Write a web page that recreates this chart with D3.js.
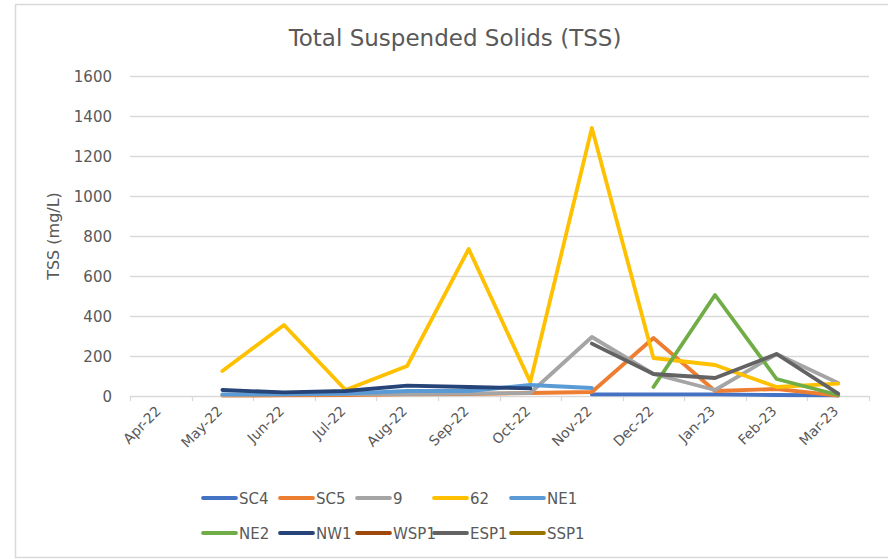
<!DOCTYPE html>
<html>
<head>
<meta charset="utf-8">
<script src="https://cdn.jsdelivr.net/npm/d3@7"></script>
<style>
  body { margin: 0; background: #fff; }
  text { font-family: "DejaVu Sans", Verdana, sans-serif; fill: #595959; }
</style>
</head>
<body>
<svg></svg>
<script>
var months = ["Apr-22","May-22","Jun-22","Jul-22","Aug-22","Sep-22","Oct-22","Nov-22","Dec-22","Jan-23","Feb-23","Mar-23"];
var yTicks = [0, 200, 400, 600, 800, 1000, 1200, 1400, 1600];

var sc4  = [null, null, null, null, null, null, null, 8, 8, 8, 5, 3];
var sc5  = [null, 2, 3, 5, 8, 10, 15, 20, 290, 25, 35, 2];
var s9   = [null, 5, 8, 10, 10, 12, 15, 295, 110, 30, 210, 65];
var s62  = [null, 125, 355, 30, 150, 735, 70, 1340, 190, 155, 45, 62];
var ne1  = [null, 8, 8, 12, 25, 25, 55, 40, null, null, null, null];
var ne2  = [null, null, null, null, null, null, null, null, 45, 505, 85, 5];
var nw1  = [null, 30, 18, 25, 52, 45, 38, null, null, null, null, null];
var wsp1 = [null, null, null, null, null, null, null, null, null, null, null, null];
var esp1 = [null, null, null, null, null, null, null, 262, 110, 90, 210, 12];
var ssp1 = [null, null, null, null, null, null, null, null, null, null, null, null];

var series = [
  {name: "SC4", color: "#4472C4", values: sc4},
  {name: "SC5", color: "#ED7D31", values: sc5},
  {name: "9", color: "#A5A5A5", values: s9},
  {name: "62", color: "#FFC000", values: s62},
  {name: "NE1", color: "#5B9BD5", values: ne1},
  {name: "NE2", color: "#70AD47", values: ne2},
  {name: "NW1", color: "#264478", values: nw1},
  {name: "WSP1", color: "#9E480E", values: wsp1},
  {name: "ESP1", color: "#636363", values: esp1},
  {name: "SSP1", color: "#997300", values: ssp1}
];

var svgWidth = 888, svgHeight = 559;
var plotLeft = 130, plotRight = 869, plotTop = 76, plotBottom = 396;

var svg = d3.select("svg").attr("width", svgWidth).attr("height", svgHeight);

// chart border
svg.append("rect")
  .attr("x", 15.5).attr("y", 4.5)
  .attr("width", 900).attr("height", 553)
  .attr("fill", "none").attr("stroke", "#d9d9d9").attr("stroke-width", 1.5);

var x = d3.scaleBand().domain(months).range([plotLeft, plotRight]);
var y = d3.scaleLinear().domain([0, 1600]).range([plotBottom, plotTop]);

// gridlines
svg.append("g")
  .selectAll("line")
  .data(yTicks)
  .enter()
  .append("line")
  .attr("x1", plotLeft).attr("x2", plotRight)
  .attr("y1", function(d) { return Math.round(y(d)) + 0.5; })
  .attr("y2", function(d) { return Math.round(y(d)) + 0.5; })
  .attr("stroke", "#d9d9d9").attr("stroke-width", 1.3);

// y labels
svg.append("g")
  .selectAll("text")
  .data(yTicks)
  .enter()
  .append("text")
  .attr("x", 112)
  .attr("y", function(d) { return y(d) + 5.5; })
  .attr("text-anchor", "end")
  .attr("font-size", "15px")
  .text(function(d) { return d; });

// x tick marks between categories
var tickX = months.map(function(m) { return x(m); }).concat([plotRight]);
svg.append("g")
  .selectAll("line")
  .data(tickX)
  .enter()
  .append("line")
  .attr("x1", function(d) { return Math.round(d) + 0.5; })
  .attr("x2", function(d) { return Math.round(d) + 0.5; })
  .attr("y1", plotBottom).attr("y2", plotBottom + 5)
  .attr("stroke", "#d9d9d9").attr("stroke-width", 1.3);

// x labels
svg.append("g")
  .selectAll("text")
  .data(months)
  .enter()
  .append("text")
  .attr("font-size", "14px")
  .attr("text-anchor", "end")
  .attr("transform", function(d) {
    return "translate(" + (x(d) + x.bandwidth() / 2 + 1) + "," + (plotBottom + 16) + ") rotate(-45)";
  })
  .text(function(d) { return d; });

// lines
var line = d3.line()
  .defined(function(d) { return d != null; })
  .x(function(d, i) { return x(months[i]) + x.bandwidth() / 2; })
  .y(function(d) { return y(d); });

svg.append("g")
  .selectAll("path")
  .data(series)
  .enter()
  .append("path")
  .attr("d", function(s) { return line(s.values); })
  .attr("fill", "none")
  .attr("stroke", function(s) { return s.color; })
  .attr("stroke-width", 3.8)
  .attr("stroke-linejoin", "round")
  .attr("stroke-linecap", "round");

// title
svg.append("text")
  .attr("x", 455).attr("y", 46)
  .attr("text-anchor", "middle")
  .attr("font-size", "23px")
  .text("Total Suspended Solids (TSS)");

// y axis title
svg.append("text")
  .attr("transform", "translate(59," + ((plotTop + plotBottom) / 2) + ") rotate(-90)")
  .attr("text-anchor", "middle")
  .attr("font-size", "16px")
  .text("TSS (mg/L)");

// legend
var legend = svg.append("g")
  .selectAll("g")
  .data(series)
  .enter()
  .append("g")
  .attr("transform", function(d, i) {
    return "translate(" + (203 + (i % 5) * 77) + "," + (i < 5 ? 498 : 533) + ")";
  });

legend.append("line")
  .attr("x1", 0).attr("x2", 33)
  .attr("y1", 0).attr("y2", 0)
  .attr("stroke", function(d) { return d.color; })
  .attr("stroke-width", 3.8)
  .attr("stroke-linecap", "round");

legend.append("text")
  .attr("x", 36).attr("y", 5.5)
  .attr("font-size", "15px")
  .text(function(d) { return d.name; });
</script>
</body>
</html>
